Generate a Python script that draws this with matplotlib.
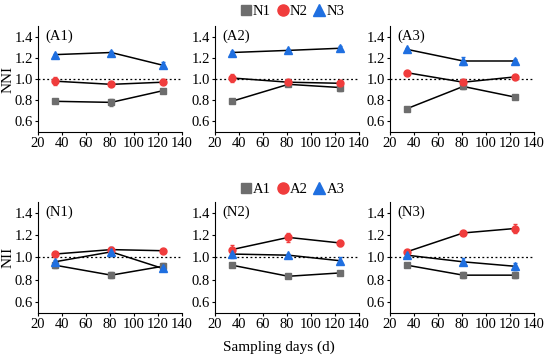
import matplotlib
matplotlib.use("Agg")
import matplotlib.pyplot as plt
from matplotlib.lines import Line2D

plt.rcParams['font.family'] = ['Liberation Serif', 'DejaVu Serif']

days = [34, 81, 124]

# Top row: NNI, panels A1-A3, series N1-N3
top_titles = ["(A1)", "(A2)", "(A3)"]
top_labels = ["N1", "N2", "N3"]
top_vals = [
    [[0.79, 0.78, 0.89], [0.98, 0.95, 0.97], [1.23, 1.25, 1.13]],
    [[0.79, 0.95, 0.92], [1.01, 0.97, 0.96], [1.25, 1.27, 1.29]],
    [[0.72, 0.93, 0.83], [1.06, 0.97, 1.02], [1.28, 1.17, 1.17]],
]
top_err = [
    [[0.02, 0.03, 0.01], [0.04, 0.02, 0.01], [0.01, 0.01, 0.03]],
    [[0.02, 0.02, 0.03], [0.04, 0.02, 0.02], [0.01, 0.01, 0.02]],
    [[0.01, 0.02, 0.02], [0.02, 0.02, 0.01], [0.01, 0.04, 0.02]],
]

# Bottom row: NII, panels N1-N3, series A1-A3
bot_titles = ["(N1)", "(N2)", "(N3)"]
bot_labels = ["A1", "A2", "A3"]
bot_vals = [
    [[0.93, 0.84, 0.92], [1.03, 1.07, 1.06], [0.96, 1.05, 0.90]],
    [[0.93, 0.83, 0.86], [1.07, 1.18, 1.13], [1.03, 1.02, 0.97]],
    [[0.93, 0.84, 0.84], [1.05, 1.22, 1.26], [1.02, 0.96, 0.92]],
]
bot_err = [
    [[0.03, 0.03, 0.03], [0.01, 0.02, 0.01], [0.02, 0.04, 0.01]],
    [[0.01, 0.01, 0.01], [0.04, 0.04, 0.03], [0.04, 0.01, 0.03]],
    [[0.01, 0.03, 0.03], [0.01, 0.01, 0.04], [0.02, 0.03, 0.03]],
]

colors = ["#6d6d6d", "#f03c3c", "#1f6fe0"]
markers = ["s", "o", "^"]
msizes = [4.5, 5, 5.5]

fig = plt.figure(figsize=(5.5, 3.56), dpi=100)

lefts = [0.069, 0.391, 0.709]
w = 0.262

def draw_panel(ax, vals, errs, title):
    ax.axhline(1.0, color="black", linestyle=(0, (1.5, 2)), linewidth=0.9, zorder=1)
    for i in range(3):
        ax.plot(days, vals[i], color="black", linewidth=1.1, zorder=2)
        ax.errorbar(days, vals[i], yerr=errs[i], fmt=markers[i], color=colors[i],
                    ms=msizes[i], elinewidth=1.0, capsize=1.5, zorder=3)
    ax.set_xlim(20, 140)
    ax.set_ylim(0.5, 1.5)
    ax.set_xticks([20, 40, 60, 80, 100, 120, 140])
    ax.set_yticks([0.6, 0.8, 1.0, 1.2, 1.4])
    ax.set_yticklabels(["0.6", "0.8", "1.0", "1.2", "1.4"])
    ax.tick_params(labelsize=10.5, length=2, width=0.8, pad=1.5)
    ax.spines["top"].set_visible(False)
    ax.spines["right"].set_visible(False)
    for s in ax.spines.values():
        s.set_linewidth(0.8)
    ax.text(0.05, 0.97, title, transform=ax.transAxes, fontsize=10.5, va="top", ha="left")

for j in range(3):
    ax = fig.add_axes([lefts[j], 0.629, w, 0.298])
    draw_panel(ax, top_vals[j], top_err[j], top_titles[j])
for j in range(3):
    ax = fig.add_axes([lefts[j], 0.121, w, 0.312])
    draw_panel(ax, bot_vals[j], bot_err[j], bot_titles[j])

fig.text(0.015, 0.778, "NNI", rotation=90, ha="center", va="center", fontsize=11)
fig.text(0.015, 0.277, "NII", rotation=90, ha="center", va="center", fontsize=11)

def make_handles(labels):
    return [Line2D([], [], marker=markers[i], color=colors[i], linestyle="none",
                   ms=msizes[i] + 3, label=labels[i]) for i in range(3)]

fig.legend(handles=make_handles(top_labels), loc="center", bbox_to_anchor=(0.53, 0.967),
           ncol=3, frameon=False, fontsize=10.5, handletextpad=0.0, columnspacing=0.3,
           handlelength=1.0)
fig.legend(handles=make_handles(bot_labels), loc="center", bbox_to_anchor=(0.53, 0.469),
           ncol=3, frameon=False, fontsize=10.5, handletextpad=0.0, columnspacing=0.3,
           handlelength=1.0)

fig.text(0.507, 0.025, "Sampling days (d)", ha="center", va="center", fontsize=11)

fig.savefig("out.png", dpi=100)
